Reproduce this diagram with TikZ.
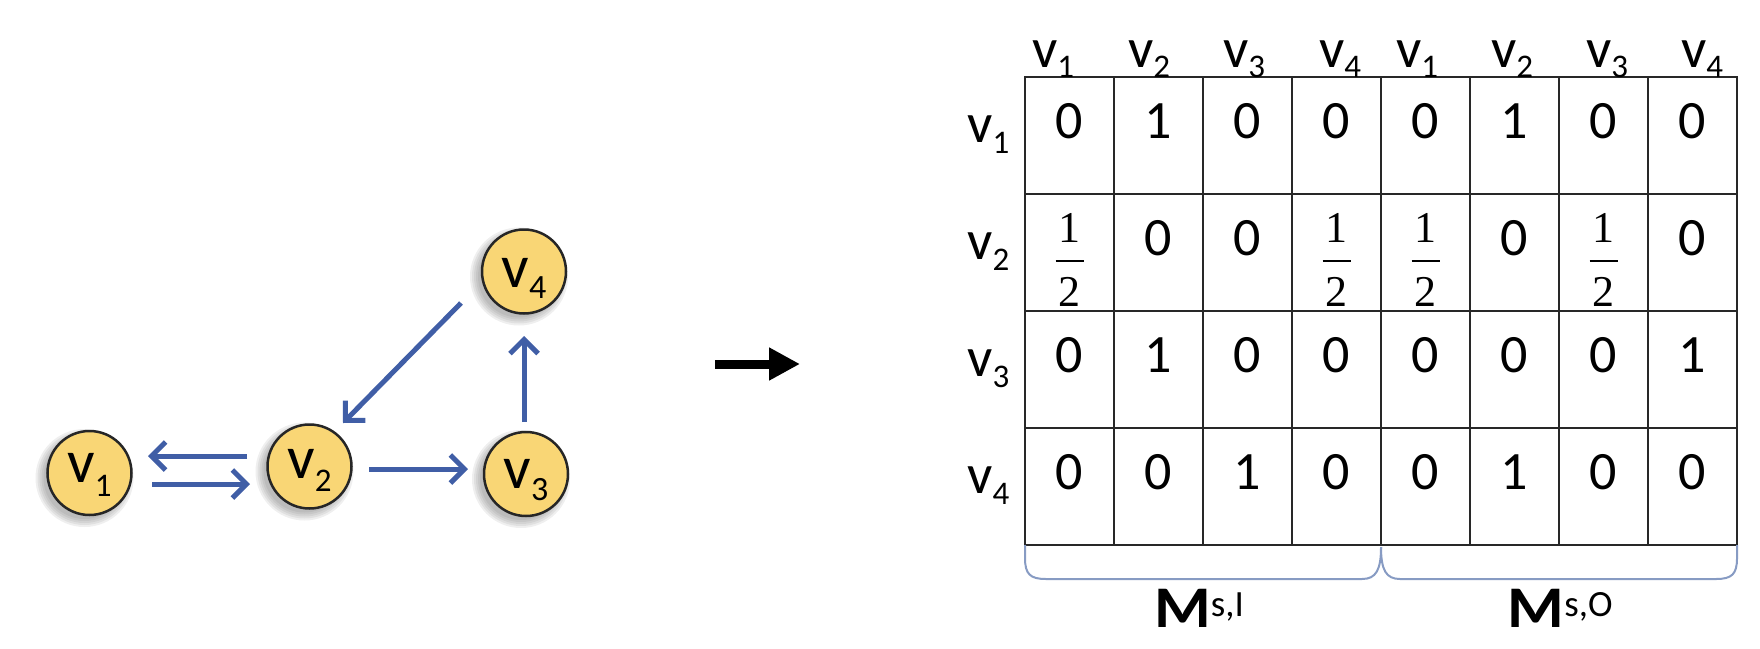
\documentclass[tikz,border=0pt]{standalone}
\usepackage{fontspec}
\setmainfont{Carlito}
\newfontfamily\fracfont{Liberation Serif}
\usetikzlibrary{arrows.meta,calc}
\definecolor{nodeyellow}{RGB}{249,214,117}
\definecolor{edgeblue}{RGB}{64,94,166}
\definecolor{bracecol}{RGB}{135,155,195}
\definecolor{gridcol}{RGB}{40,40,40}
\newcommand\vsb[3]{v\raisebox{-#2pt}{\fontsize{#3}{#3}\selectfont #1}}
\newcommand\half{\raisebox{-51pt}{\fracfont\fontsize{44}{44}\selectfont\vbox{\offinterlineskip
  \hbox to 28pt{\hss 1\hss}\kern17pt\hrule width 28pt height 2pt\kern15pt\hbox to 28pt{\hss 2\hss}}}}
\begin{document}
\begin{tikzpicture}[x=1pt,y=-1pt,
  vertex/.style={circle, draw=black!85, line width=2.5pt, fill=nodeyellow,
    minimum size=84pt, inner sep=0pt, font=\fontsize{61}{61}\selectfont,
    text depth=0pt, text height=#1},
  shadowring/.style={fill=black!70, opacity=0.09},
  blueedge/.style={draw=edgeblue, line width=5pt, -{Straight Barb[length=14pt,width=28pt]}},
  bigarrow/.style={draw=black, line width=9pt, -{Triangle[length=31pt,width=31pt]}},
  gridline/.style={draw=gridcol, line width=2pt},
  mlabel/.style={inner sep=0pt, font=\fontsize{56}{56}\selectfont},
  entry/.style={inner sep=0pt, anchor=base, font=\fontsize{54}{54}\selectfont},
  bracepath/.style={draw=bracecol, line width=2pt},
  mtitle/.style={inner sep=0pt, anchor=base, font=\fontsize{59}{59}\selectfont\bfseries}
]
\useasboundingbox (0,0) rectangle (1760,648);

% node positions and soft shadows
\coordinate (p1) at (89.5,473);
\coordinate (p2) at (309.5,466.5);
\coordinate (p3) at (526,474);
\coordinate (p4) at (524,271.5);
\foreach \p in {p1,p2,p3,p4} {
  \foreach \r in {49,47,45,43,41} \fill[shadowring] ($(\p)+(-5,5)$) circle (\r);
}

% graph
\node[vertex=18pt] (v1) at (p1) {\vsb{1}{14}{33}};
\node[vertex=23pt] (v2) at (p2) {\vsb{2}{13}{33}};
\node[vertex=28pt] (v3) at (p3) {\vsb{3}{12}{34}};
\node[vertex=32pt] (v4) at (p4) {\vsb{4}{11}{34}};

\draw[blueedge] ($(v2)+(-62.5,-10.5)$) -- ($(v1)+(58.5,-17)$);
\draw[blueedge] ($(v1)+(62.5,11)$) -- ($(v2)+(-59.5,17.5)$);
\draw[blueedge] ($(v2)+(59.5,2.5)$) -- ($(v3)+(-58,-5)$);
\draw[blueedge] ($(v3)+(-2,-52)$) -- ($(v4)+(0,64.5)$);
\draw[blueedge] ($(v4)+(-63,31.5)$) -- ($(v2)+(33.5,-43.5)$);

% big arrow
\coordinate (bs) at (715,364);
\coordinate (bt) at (800,364);
\draw[bigarrow] (bs) -- (bt);

% matrix grid
\draw[gridline] (1025,77) rectangle (1737,545);
\foreach \i in {1,...,7} \draw[gridline] ({1025+89*\i},77) -- ({1025+89*\i},545);
\foreach \j in {1,2,3} \draw[gridline] (1025,{77+117*\j}) -- (1737,{77+117*\j});

% header labels
\foreach \x/\n [count=\i] in {1053/1,1149/2,1244/3,1340/4,1417/1,1512/2,1607/3,1702/4}
  \node[mlabel, anchor=base] (h\i) at (\x,67) {\vsb{\n}{10}{33}};

% row labels
\foreach \j in {1,...,4}
  \node[mlabel, anchor=base west] (r\j) at (967,{77+117*(\j-1)+65}) {\vsb{\j}{11}{33}};

% entries
\foreach \rowvals [count=\j] in {{0,1,0,0,0,1,0,0},{\half,0,0,\half,\half,0,\half,0},{0,1,0,0,0,0,0,1},{0,0,1,0,0,1,0,0}} {
  \foreach \val [count=\i] in \rowvals {
    \node[entry] (c\j\i) at ({1025+89*(\i-0.5)},{77+117*(\j-1)+61}) {\val};
  }
}

% braces
\draw[bracepath] (1025,545) -- (1025,558) .. controls (1025,574) and (1030,579) .. (1046,579)
  -- (1362,579) .. controls (1376,579) and (1381,570) .. (1381,547);
\draw[bracepath] (1381,547) .. controls (1381,570) and (1386,579) .. (1400,579)
  -- (1716,579) .. controls (1732,579) and (1737,574) .. (1737,558) -- (1737,545);

% titles
\node[mtitle] (mi) at (1199,627) {\scalebox{1.1}[1]{M}\raisebox{11pt}{\fontsize{37}{37}\selectfont\mdseries s,I}};
\node[mtitle] (mo) at (1560,627) {\scalebox{1.1}[1]{M}\raisebox{11pt}{\fontsize{37}{37}\selectfont\mdseries s,O}};
\end{tikzpicture}
\end{document}
